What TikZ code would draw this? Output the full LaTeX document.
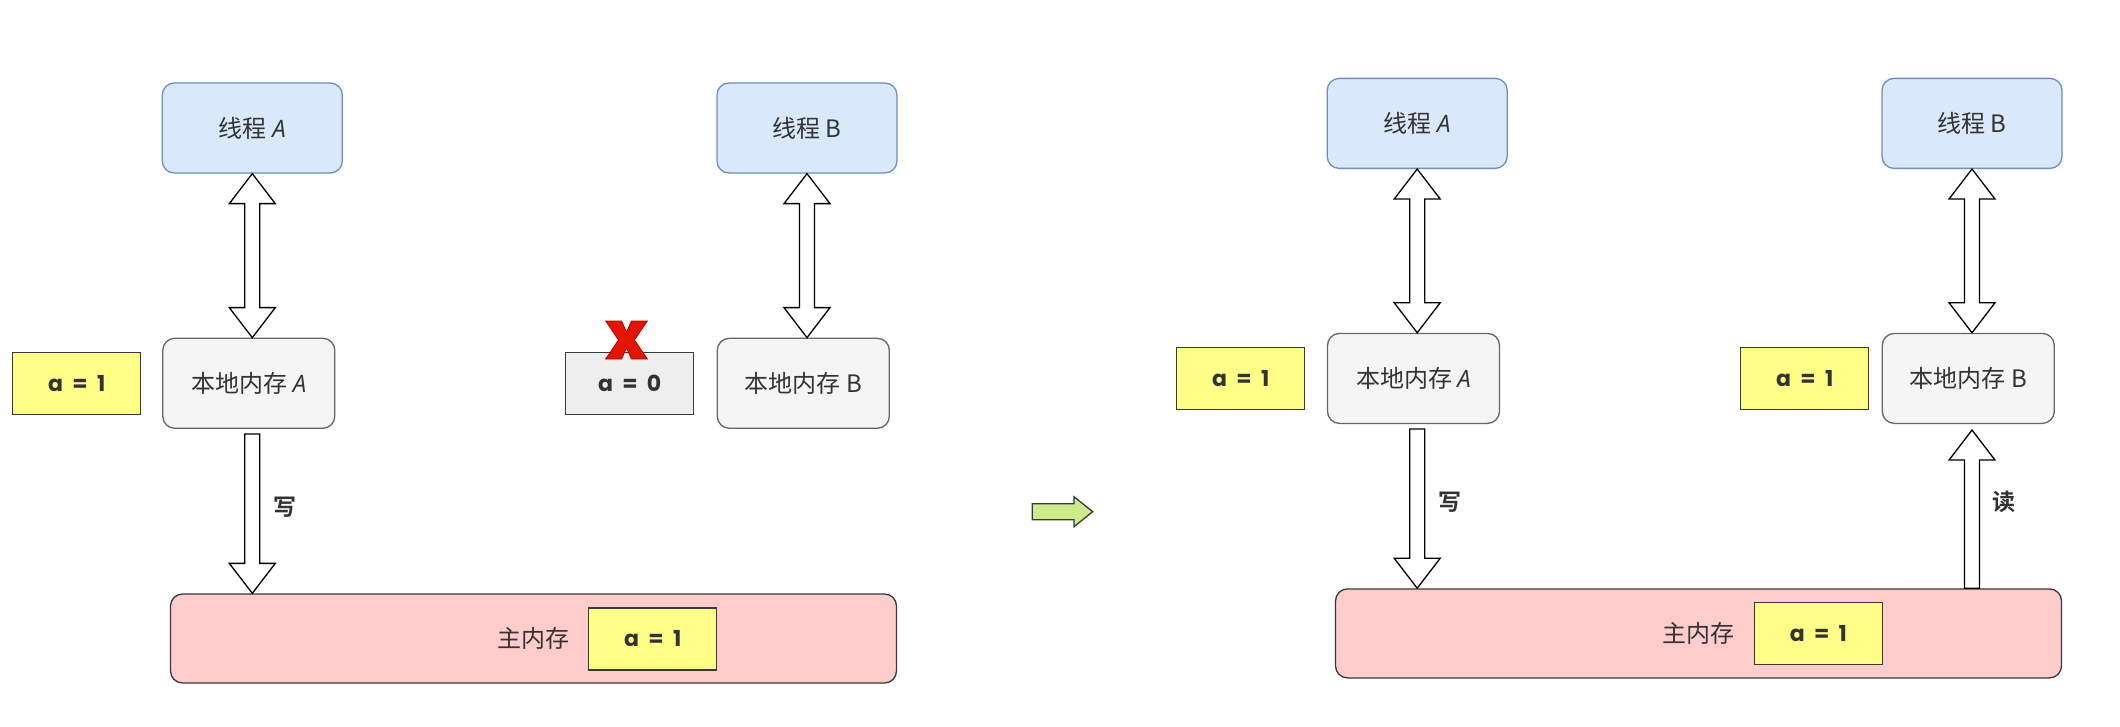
\documentclass[tikz,border=0pt]{standalone}
\usepackage{fontspec}
\setmainfont{Noto Sans CJK SC}[BoldFont={Noto Sans CJK SC Bold}]
\newfontfamily\valfont{Poppins}
\newfontfamily\latinfont{Open Sans}
\usetikzlibrary{calc}

\definecolor{thfill}{HTML}{DAE8FC}
\definecolor{thdraw}{HTML}{6C8EBF}
\definecolor{locfill}{HTML}{F5F5F5}
\definecolor{locdraw}{HTML}{666666}
\definecolor{valfill}{HTML}{FFFF88}
\definecolor{darkline}{HTML}{36393D}
\definecolor{oldfill}{HTML}{EEEEEE}
\definecolor{mainfill}{HTML}{FFCCCC}
\definecolor{txtgray}{HTML}{333333}
\definecolor{nextfill}{HTML}{CDEB8B}
\definecolor{crossfill}{HTML}{E51400}
\definecolor{crossdraw}{HTML}{B20000}

\tikzset{
	box/.style={draw, line width=1.3pt, text=txtgray, inner sep=0pt, font=\fontsize{24}{28}\selectfont},
	thread/.style={box, rounded corners=12pt, fill=thfill, draw=thdraw, minimum width=180pt, minimum height=90pt},
	local/.style={box, rounded corners=12pt, fill=locfill, draw=locdraw, minimum width=172pt, minimum height=90pt},
	val/.style={box, fill=valfill, draw=darkline, minimum width=128pt, minimum height=62pt, font=\valfont\bfseries\fontsize{22}{26}\selectfont},
	mainmem/.style={box, rounded corners=12pt, fill=mainfill, draw=darkline, minimum width=726pt, minimum height=89pt},
	oplabel/.style={text=txtgray, font=\bfseries\fontsize{23}{27}\selectfont},
	flexarrow/.style={draw=black, fill=white, line width=1.3pt, line join=miter},
	nextarrow/.style={draw=darkline, fill=nextfill, line width=1.3pt},
	redcross/.style={draw=crossdraw, fill=crossfill, line width=0.8pt},
}

% arrow between thread and local memory
\newcommand\dblarrow[2]{%
	\draw[flexarrow] let \p1=(#1.south), \p2=(#2.north) in
		(\x1,\y1) -- ({\x1+23pt},{\y1-30pt}) -- ({\x1+7.5pt},{\y1-30pt}) -- ({\x1+7.5pt},{\y2+30pt})
		-- ({\x1+23pt},{\y2+30pt}) -- (\x1,\y2) -- ({\x1-23pt},{\y2+30pt}) -- ({\x1-7.5pt},{\y2+30pt})
		-- ({\x1-7.5pt},{\y1-30pt}) -- ({\x1-23pt},{\y1-30pt}) -- cycle;}
% write: local memory down to main memory
\newcommand\writearrow[3]{%
	\draw[flexarrow] let \p1=(#1.south), \p2=(#2.south), \p3=(#3.north) in
		({\x1-7.5pt},{\y2-5pt}) -- ({\x1+7.5pt},{\y2-5pt}) -- ({\x1+7.5pt},{\y3+30pt}) -- ({\x1+23pt},{\y3+30pt})
		-- (\x1,\y3) -- ({\x1-23pt},{\y3+30pt}) -- ({\x1-7.5pt},{\y3+30pt}) -- cycle;}
% read: main memory up to local memory
\newcommand\readarrow[3]{%
	\draw[flexarrow] let \p1=(#1.south), \p2=(#2.south), \p3=(#3.north) in
		({\x1-7.5pt},\y3) -- ({\x1+7.5pt},\y3) -- ({\x1+7.5pt},{\y2-36pt}) -- ({\x1+23pt},{\y2-36pt})
		-- (\x1,{\y2-6pt}) -- ({\x1-23pt},{\y2-36pt}) -- ({\x1-7.5pt},{\y2-36pt}) -- cycle;}

\begin{document}
\begin{tikzpicture}[x=1pt, y=-1pt]
	\useasboundingbox (0,0) rectangle (2120,727);

	% before
	\node[thread] (thA1) at (252.3,128) {线程 {\latinfont\itshape A}};
	\node[thread] (thB1) at (807,128) {线程 B};
	\node[local] (locA1) at (248.8,383.3) {本地内存 {\latinfont\itshape A}};
	\node[local] (locB1) at (803.3,383.3) {本地内存 B};
	\node[val] (valA1) at (76.8,383.5) {a\ \ =\ \ 1};
	\node[val, fill=oldfill] (valB1) at (629.7,383.5) {a\ \ =\ \ 0};
	\node[mainmem] (main1) at (533.5,638.5) {主内存};
	\node[val] (valM1) at (652.7,639) {a\ \ =\ \ 1};

	\dblarrow{thA1}{locA1}
	\dblarrow{thB1}{locB1}
	\writearrow{thA1}{locA1}{main1}
	\node[oplabel] (wr1) at (285,507) {写};

	\begin{scope}[shift={(626.5,340)}]
		\draw[redcross] (-20.8,-19) -- (-5,-19) -- (0,-8) -- (5,-19) -- (20.8,-19) -- (8,0) -- (20.8,19)
			-- (5,19) -- (0,8) -- (-5,19) -- (-20.8,19) -- (-8,0) -- cycle;
	\end{scope}

	\draw[nextarrow] (1032.3,503.7) -- (1074,503.7) -- (1074,496.7) -- (1092.7,511.7) -- (1074,526.7)
		-- (1074,519.7) -- (1032.3,519.7) -- cycle;

	% after
	\node[thread] (thA2) at (1417.2,123.4) {线程 {\latinfont\itshape A}};
	\node[thread] (thB2) at (1972,123.4) {线程 B};
	\node[local] (locA2) at (1413.5,378.4) {本地内存 {\latinfont\itshape A}};
	\node[local] (locB2) at (1968.3,378.4) {本地内存 B};
	\node[val] (valA2) at (1240.8,378.6) {a\ \ =\ \ 1};
	\node[val] (valB2) at (1804.7,378.6) {a\ \ =\ \ 1};
	\node[mainmem] (main2) at (1698.5,633.4) {主内存};
	\node[val] (valM2) at (1818.4,633.4) {a\ \ =\ \ 1};

	\dblarrow{thA2}{locA2}
	\dblarrow{thB2}{locB2}
	\writearrow{thA2}{locA2}{main2}
	\readarrow{thB2}{locB2}{main2}
	\node[oplabel] (wr2) at (1450,502) {写};
	\node[oplabel] (rd2) at (2004,502) {读};
\end{tikzpicture}
\end{document}
